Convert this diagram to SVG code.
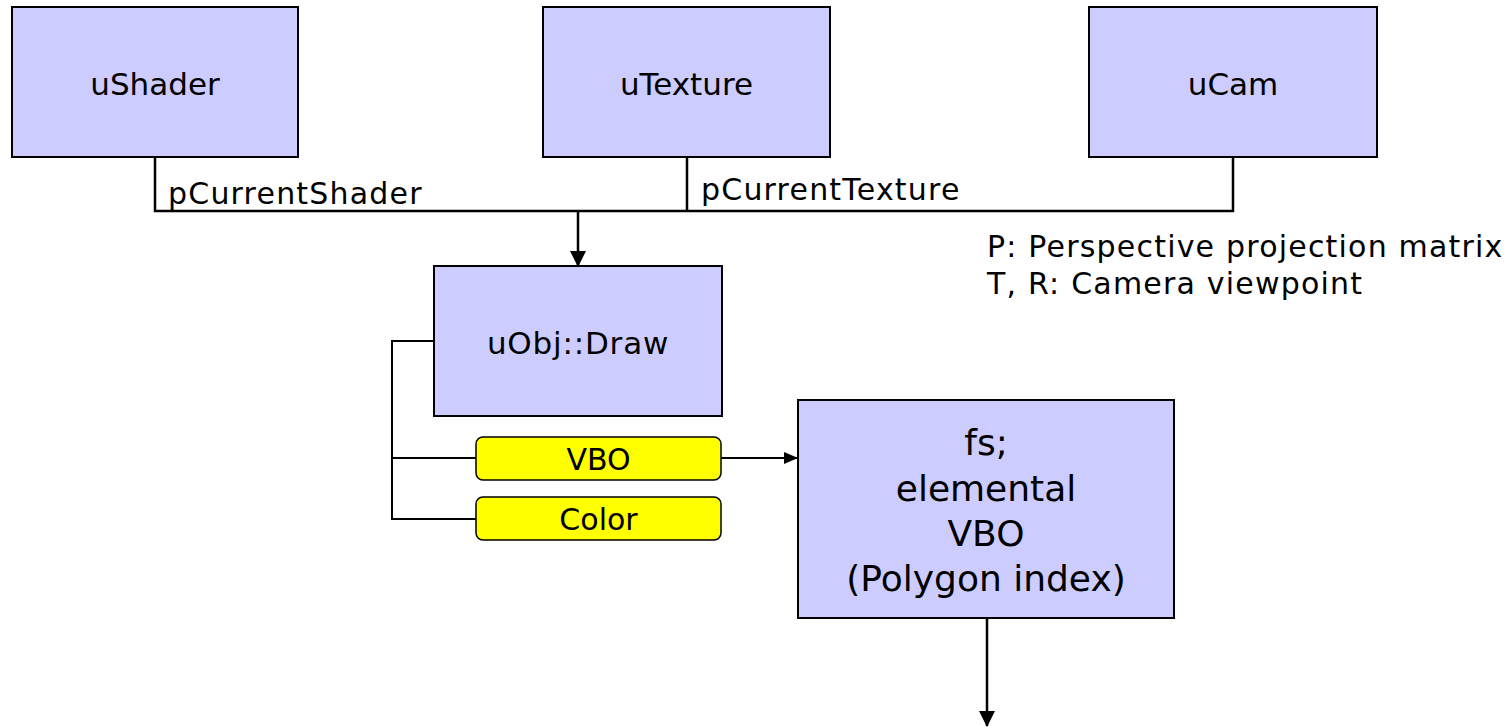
<svg xmlns="http://www.w3.org/2000/svg" width="1504" height="727" viewBox="0 0 1504 727">
<defs>
<marker id="arr" markerWidth="16" markerHeight="16" refX="15" refY="8" orient="auto" markerUnits="userSpaceOnUse" viewBox="0 0 16 16">
<path d="M0,0 L16,8 L0,16 Z" fill="#000"/>
</marker>
<marker id="arrs" markerWidth="14" markerHeight="12" refX="13" refY="6" orient="auto" markerUnits="userSpaceOnUse" viewBox="0 0 14 12">
<path d="M0,0 L14,6 L0,12 Z" fill="#000"/>
</marker>
<style>
.box{fill:#CCCCFF;stroke:#000;stroke-width:2}
.tag{fill:#FFFF00;stroke:#000;stroke-width:1.5}
.lbl{font-family:"DejaVu Sans",Verdana,sans-serif;font-size:31px;fill:#000;text-anchor:middle}
.big{font-family:"DejaVu Sans",Verdana,sans-serif;font-size:36px;fill:#000;text-anchor:middle}
.txt{font-family:"DejaVu Sans",Verdana,sans-serif;font-size:30px;fill:#000;letter-spacing:1.2px}
.tagt{font-family:"DejaVu Sans",Verdana,sans-serif;font-size:30px;fill:#000;text-anchor:middle}
.ln{fill:none;stroke:#000;stroke-width:2.5}
.ln2{fill:none;stroke:#000;stroke-width:2}
</style>
</defs>
<rect width="1504" height="727" fill="#fff"/>
<g id="connectors">
<polyline class="ln" points="155,157 155,211 1233,211 1233,157"/>
<line class="ln" x1="687" y1="157" x2="687" y2="211"/>
<line class="ln" x1="578" y1="211" x2="578" y2="266" marker-end="url(#arr)"/>
<polyline class="ln2" points="434,341 392,341 392,519 476,519"/>
<line class="ln2" x1="392" y1="458" x2="476" y2="458"/>
<line class="ln2" x1="721" y1="458" x2="797" y2="458" marker-end="url(#arrs)"/>
<line class="ln" x1="987" y1="618" x2="987" y2="726" marker-end="url(#arr)"/>
</g>
<g id="uShader"><rect class="box" x="12" y="7" width="286" height="150"/><text class="lbl" x="155" y="95">uShader</text></g>
<g id="uTexture"><rect class="box" x="543" y="7" width="287" height="150"/><text class="lbl" x="686.5" y="95">uTexture</text></g>
<g id="uCam"><rect class="box" x="1089" y="7" width="288" height="150"/><text class="lbl" x="1233" y="95">uCam</text></g>
<g id="label-pCurrentShader"><text class="txt" x="168" y="204">pCurrentShader</text></g>
<g id="label-pCurrentTexture"><text class="txt" x="701" y="200">pCurrentTexture</text></g>
<g id="note"><text class="txt" x="987" y="257">P: Perspective projection matrix</text><text class="txt" x="987" y="294">T, R: Camera viewpoint</text></g>
<g id="uObjDraw"><rect class="box" x="434" y="266" width="288" height="150"/><text class="lbl" x="578" y="354" style="letter-spacing:0.8px">uObj::Draw</text></g>
<g id="VBO"><rect class="tag" x="476" y="437" width="245" height="43" rx="7"/><text class="tagt" x="598.5" y="470">VBO</text></g>
<g id="Color"><rect class="tag" x="476" y="497" width="245" height="43" rx="7"/><text class="tagt" x="598.5" y="530">Color</text></g>
<g id="fs"><rect class="box" x="798" y="400" width="376" height="218"/>
<text class="big" x="986" y="455">fs;</text>
<text class="big" x="986" y="501">elemental</text>
<text class="big" x="986" y="546">VBO</text>
<text class="big" x="986" y="591">(Polygon index)</text></g>
</svg>
